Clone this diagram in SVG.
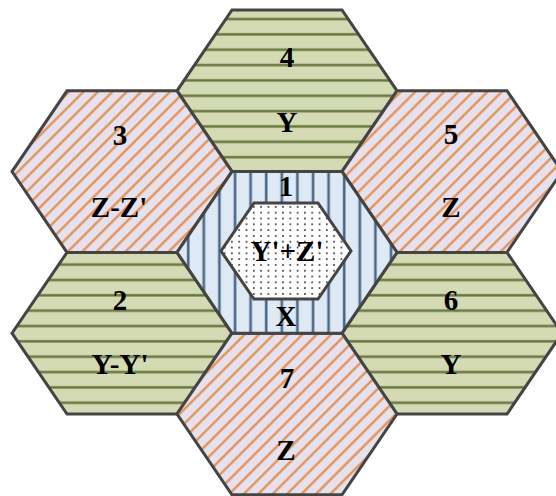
<svg xmlns="http://www.w3.org/2000/svg" width="556" height="496" viewBox="0 0 556 496">
<style>
.hex{stroke:#444444;stroke-width:3;stroke-linejoin:miter}
.green{fill:url(#pGreen)}
.orange{fill:url(#pOrange)}
.blue{fill:url(#pBlue)}
.dots{fill:url(#pDots)}
text{font-family:"Liberation Serif","Times New Roman",serif;font-weight:bold;font-size:29px;fill:#000;text-anchor:middle}
</style>
<defs>
<pattern id="pGreen" patternUnits="userSpaceOnUse" x="0" y="12" width="20" height="15.35">
<rect x="0" y="0" width="20" height="15.35" fill="#d3dab4"/>
<rect x="0" y="5.6" width="20" height="2.8" fill="#8e9c6c"/>
<rect x="0" y="6.1" width="20" height="1.8" fill="#66763f"/>
</pattern>
<pattern id="pBlue" patternUnits="userSpaceOnUse" x="228" y="0" width="15.6" height="20">
<rect x="0" y="0" width="15.6" height="20" fill="#dee9f3"/>
<rect x="5.5" y="0" width="3" height="20" fill="#8aa2bb"/>
<rect x="6" y="0" width="2" height="20" fill="#4a6686"/>
</pattern>
<pattern id="pOrange" patternUnits="userSpaceOnUse" x="0" y="0" width="10.2" height="10" patternTransform="rotate(45)">
<rect x="0" y="0" width="10.2" height="10" fill="#e6e1ee"/>
<rect x="0" y="0" width="3" height="10" fill="#e6c0a4"/>
<rect x="0.7" y="0" width="1.6" height="10" fill="#e2894c"/>
</pattern>
<pattern id="pDots" patternUnits="userSpaceOnUse" x="2" y="1" width="7.3" height="5.8">
<rect x="0" y="0" width="7.3" height="5.8" fill="#ffffff"/>
<circle cx="3.6" cy="2.9" r="0.95" fill="#333333"/>
</pattern>
</defs>
<g id="connectors"></g>
<g id="node4">
<polygon class="hex green" points="232,10 342,10 397,90.8 342,171.6 232,171.6 177,90.8"/>
<text x="287" y="67">4</text>
<text x="287" y="132">Y</text>
</g>
<g id="node3">
<polygon class="hex orange" points="67,90.8 177,90.8 232,171.6 177,252.4 67,252.4 12,171.6"/>
<text x="120" y="145">3</text>
<text x="119" y="217">Z-Z'</text>
</g>
<g id="node5">
<polygon class="hex orange" points="397,90.8 507,90.8 562,171.6 507,252.4 397,252.4 342,171.6"/>
<text x="451" y="144">5</text>
<text x="451" y="217">Z</text>
</g>
<g id="node2">
<polygon class="hex green" points="67,252.4 177,252.4 232,333.2 177,414 67,414 12,333.2"/>
<text x="120" y="310">2</text>
<text x="120" y="374">Y-Y'</text>
</g>
<g id="node6">
<polygon class="hex green" points="397,252.4 507,252.4 562,333.2 507,414 397,414 342,333.2"/>
<text x="451" y="310">6</text>
<text x="451" y="374">Y</text>
</g>
<g id="node7">
<polygon class="hex orange" points="232,333.2 342,333.2 397,414 342,494.8 232,494.8 177,414"/>
<text x="287" y="388">7</text>
<text x="286" y="460">Z</text>
</g>
<g id="node1">
<polygon class="hex blue" points="232,171.6 342,171.6 397,252.4 342,333.2 232,333.2 177,252.4"/>
<text x="286" y="196">1</text>
<text x="286" y="326">X</text>
</g>
<g id="node1inner">
<polygon class="hex dots" points="254,203 318,203 351,251 318,299 254,299 221,251"/>
<text x="287" y="261">Y'+Z'</text>
</g>
</svg>
